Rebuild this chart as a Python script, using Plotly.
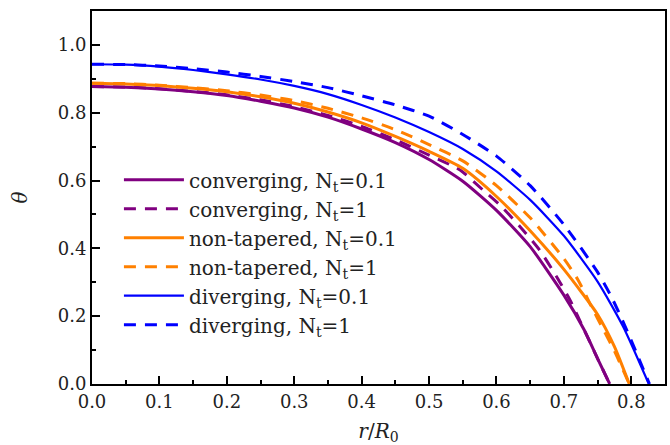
import plotly.graph_objects as go

# ---- data ----
conv01_x = [0.0, 0.05, 0.1, 0.15, 0.2, 0.25, 0.3, 0.35, 0.4, 0.45, 0.5, 0.55, 0.6, 0.65, 0.7, 0.73, 0.75, 0.768]
conv01_y = [0.877, 0.875, 0.870, 0.862, 0.851, 0.834, 0.814, 0.787, 0.752, 0.712, 0.662, 0.598, 0.512, 0.405, 0.262, 0.16, 0.075, 0.0]

conv1_x = [0.0, 0.05, 0.1, 0.15, 0.2, 0.25, 0.3, 0.35, 0.4, 0.45, 0.5, 0.546, 0.58, 0.605, 0.635, 0.664, 0.689, 0.709, 0.73, 0.75, 0.768]
conv1_y = [0.877, 0.876, 0.871, 0.863, 0.853, 0.838, 0.818, 0.792, 0.760, 0.720, 0.675, 0.631, 0.572, 0.528, 0.464, 0.395, 0.317, 0.248, 0.16, 0.075, 0.0]

nont01_x = [0.0, 0.05, 0.1, 0.15, 0.2, 0.25, 0.3, 0.35, 0.4, 0.45, 0.5, 0.55, 0.6, 0.65, 0.7, 0.75, 0.775, 0.797]
nont01_y = [0.887, 0.885, 0.880, 0.872, 0.862, 0.847, 0.828, 0.802, 0.770, 0.730, 0.686, 0.636, 0.553, 0.452, 0.338, 0.205, 0.11, 0.0]

nont1_x = [0.0, 0.05, 0.1, 0.15, 0.2, 0.25, 0.3, 0.35, 0.4, 0.45, 0.5, 0.55, 0.6, 0.65, 0.7, 0.721, 0.741, 0.76, 0.775, 0.797]
nont1_y = [0.887, 0.886, 0.881, 0.874, 0.865, 0.852, 0.836, 0.813, 0.785, 0.750, 0.706, 0.658, 0.585, 0.490, 0.370, 0.307, 0.228, 0.155, 0.097, 0.0]

div01_x = [0.0, 0.05, 0.1, 0.15, 0.2, 0.25, 0.3, 0.35, 0.4, 0.45, 0.5, 0.55, 0.6, 0.65, 0.7, 0.75, 0.788, 0.826]
div01_y = [0.943, 0.942, 0.936, 0.926, 0.913, 0.898, 0.879, 0.855, 0.823, 0.786, 0.743, 0.693, 0.627, 0.543, 0.437, 0.302, 0.169, 0.0]

div1_x = [0.0, 0.05, 0.1, 0.15, 0.2, 0.25, 0.3, 0.35, 0.4, 0.45, 0.5, 0.55, 0.6, 0.65, 0.7, 0.75, 0.771, 0.79, 0.808, 0.827]
div1_y = [0.943, 0.942, 0.938, 0.930, 0.920, 0.907, 0.892, 0.874, 0.850, 0.823, 0.790, 0.736, 0.672, 0.585, 0.470, 0.330, 0.255, 0.174, 0.090, 0.0]

names = ["converging, N<sub>t</sub>=0.1", "converging, N<sub>t</sub>=1",
         "non-tapered, N<sub>t</sub>=0.1", "non-tapered, N<sub>t</sub>=1",
         "diverging, N<sub>t</sub>=0.1", "diverging, N<sub>t</sub>=1"]

x_ticks = [0.0, 0.1, 0.2, 0.3, 0.4, 0.5, 0.6, 0.7, 0.8]
y_ticks = [0.0, 0.2, 0.4, 0.6, 0.8, 1.0]

PURPLE = "#800080"
ORANGE = "#FF8000"
BLUE = "#0000FF"

series = [
    (conv01_x, conv01_y, names[0], PURPLE, "solid", 3),
    (conv1_x, conv1_y, names[1], PURPLE, "dash", 3),
    (nont01_x, nont01_y, names[2], ORANGE, "solid", 3),
    (nont1_x, nont1_y, names[3], ORANGE, "dash", 3),
    (div01_x, div01_y, names[4], BLUE, "solid", 2.2),
    (div1_x, div1_y, names[5], BLUE, "dash", 3),
]

fig = go.Figure()
for xs, ys, nm, col, dash, w in series:
    fig.add_trace(go.Scatter(
        x=xs, y=ys, name=nm, mode="lines",
        line=dict(color=col, width=w, dash="12px,9px" if dash == "dash" else "solid",
                  shape="spline", smoothing=0.6),
    ))

FONT = "DejaVu Serif"
axis_common = dict(
    showline=True, linecolor="black", linewidth=2, mirror=True,
    ticks="inside", ticklen=8, tickwidth=2, tickcolor="black",
    showgrid=False, zeroline=False, automargin=False,
    tickfont=dict(family=FONT, size=18, color="#222"),
)

fig.update_xaxes(
    range=[0, 0.85], tickvals=x_ticks, ticktext=[f"{v:.1f}" for v in x_ticks],
    minor=dict(ticks="inside", ticklen=4, tickwidth=2, tickcolor="black", dtick=0.05, tick0=0, showgrid=False),
    title=dict(text="<i>r</i>/<i>R</i><sub>0</sub>", font=dict(family=FONT, size=20, color="#222"), standoff=13),
    **axis_common,
)
fig.update_yaxes(
    range=[0, 1.1], tickvals=y_ticks, ticktext=[f"{v:.1f}" for v in y_ticks],
    minor=dict(ticks="inside", ticklen=4, tickwidth=2, tickcolor="black", dtick=0.1, tick0=0, showgrid=False),
    title=dict(text="<i>θ</i>", font=dict(family=FONT, size=20, color="#222"), standoff=25),
    **axis_common,
)

fig.update_layout(
    width=670, height=445,
    margin=dict(l=92, r=5, t=11, b=61, autoexpand=False),
    paper_bgcolor="white", plot_bgcolor="white",
    showlegend=True,
    legend=dict(
        x=0.047, y=0.60, xanchor="left", yanchor="top",
        bgcolor="rgba(0,0,0,0)", borderwidth=0,
        font=dict(family=FONT, size=20, color="#222"),
        itemwidth=60,
    ),
)

fig.write_html("out.html", config={"displayModeBar": False},
               post_script="document.body.style.margin='0';")
